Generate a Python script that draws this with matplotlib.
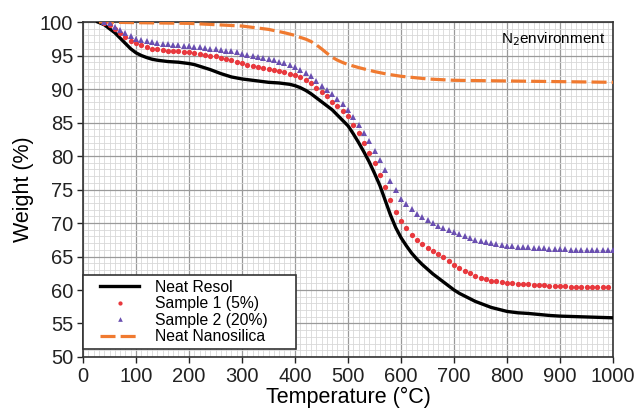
import matplotlib.pyplot as plt
import numpy as np
from matplotlib.ticker import MultipleLocator
from matplotlib.lines import Line2D
from matplotlib.legend_handler import HandlerLine2D

plt.rcParams['font.family'] = ['Liberation Sans', 'DejaVu Sans']

# Neat Resol (solid black)
resol_t = [28] + list(range(40, 800, 10)) + [800, 820, 840, 860, 880, 900, 920, 940, 960, 980, 1000]
resol_w = [100, 99.6, 99.0, 98.4, 97.6, 96.8, 96.0, 95.4, 95.0, 94.7, 94.45, 94.3, 94.2, 94.1,
           94.05, 94.0, 93.9, 93.8, 93.65, 93.4, 93.15, 92.9, 92.6, 92.3, 92.05, 91.8, 91.65,
           91.5, 91.4, 91.3, 91.2, 91.1, 91.0, 90.95, 90.9, 90.8, 90.7, 90.5, 90.2, 89.8, 89.3,
           88.7, 88.1, 87.5, 86.9, 86.1, 85.3, 84.5, 83.3, 82.0, 80.6, 79.1, 77.4, 75.6, 73.4,
           71.2, 69.3, 67.8, 66.6, 65.5, 64.6, 63.8, 63.1, 62.4, 61.8, 61.2, 60.6, 60.0, 59.5,
           59.1, 58.7, 58.3, 58.0, 57.7, 57.4, 57.2, 57.0,
           56.8, 56.6, 56.5, 56.35, 56.2, 56.1, 56.05, 56.0, 55.95, 55.9, 55.85]

# Sample 1 (5%), red dots every 10 C from 40 to 990
s1_t = list(range(40, 1000, 10))
s1_w = [99.9, 99.5, 98.9, 98.3, 97.7, 97.2, 96.8, 96.5, 96.2, 96.0, 95.9, 95.8, 95.7, 95.65,
        95.6, 95.55, 95.5, 95.4, 95.3, 95.15, 95.0, 94.9, 94.7, 94.5, 94.3, 94.1, 93.9, 93.6,
        93.4, 93.25, 93.1, 92.95, 92.8, 92.65, 92.5, 92.3, 92.1, 91.8, 91.4, 90.9, 90.2, 89.6,
        88.9, 88.1, 87.4, 86.7, 85.9, 84.7, 83.5, 82.0, 80.5, 78.9, 77.1, 75.3, 73.4, 71.7,
        70.3, 69.2, 68.2, 67.5, 66.8, 66.3, 65.8, 65.3, 64.9, 64.3, 63.8, 63.3, 62.9, 62.5,
        62.1, 61.8, 61.6, 61.4, 61.3, 61.2, 61.1, 61.0, 60.95, 60.9, 60.85, 60.8, 60.75, 60.7,
        60.65, 60.6, 60.6, 60.55, 60.5, 60.5, 60.5, 60.45, 60.45, 60.4, 60.4, 60.4]

# Sample 2 (20%), purple triangles every 10 C from 40 to 1000
s2_t = list(range(40, 1010, 10))
s2_w = [100.0, 99.8, 99.3, 98.8, 98.3, 97.9, 97.5, 97.3, 97.1, 96.95, 96.85, 96.75, 96.65,
        96.6, 96.5, 96.45, 96.4, 96.3, 96.2, 96.1, 96.0, 95.9, 95.8, 95.7, 95.6, 95.45, 95.2,
        95.05, 94.9, 94.75, 94.6, 94.45, 94.3, 94.1, 93.9, 93.6, 93.3, 92.9, 92.4, 91.9, 91.2,
        90.5, 89.9, 89.2, 88.5, 87.7, 86.9, 85.8, 84.7, 83.5, 82.2, 80.8, 79.4, 77.9, 76.3,
        74.9, 73.6, 72.8, 72.1, 71.4, 70.9, 70.4, 70.0, 69.6, 69.3, 69.0, 68.7, 68.4, 68.1,
        67.8, 67.5, 67.3, 67.1, 67.0, 66.85, 66.7, 66.6, 66.5, 66.45, 66.4, 66.35, 66.3, 66.25,
        66.2, 66.15, 66.1, 66.1, 66.05, 66.0, 66.0, 66.0, 65.95, 65.95, 65.9, 65.9, 65.9, 65.9]

# Neat Nanosilica (orange dashed)
silica_t = [30, 100, 200, 250, 300, 350, 380, 400, 410, 420, 430, 440, 450, 460, 470, 480, 490,
            500, 520, 550, 575, 600, 650, 700, 800, 900, 1000]
silica_w = [100, 99.9, 99.8, 99.6, 99.4, 98.9, 98.4, 98.0, 97.7, 97.45, 97.1, 96.6, 96.0, 95.35,
            94.75, 94.3, 93.95, 93.65, 93.2, 92.6, 92.2, 91.9, 91.5, 91.3, 91.2, 91.1, 91.0]

fig = plt.figure(figsize=(6.36, 4.13), dpi=100)
ax = fig.add_axes([0.1305, 0.1356, 0.8335, 0.8111])

ax.plot(resol_t, resol_w, color='black', lw=2.4, label='Neat Resol', zorder=3)
ax.plot(s1_t, s1_w, ls='none', marker='o', ms=3.8, color='#e8383d', mew=0,
        label='Sample 1 (5%)', zorder=4)
ax.plot(s2_t, s2_w, ls='none', marker='^', ms=4.2, color='#6a4fb0', mew=0,
        label='Sample 2 (20%)', zorder=4)
ax.plot(silica_t, silica_w, color='#f07a30', lw=2.3, dashes=(4.7, 1.6),
        label='Neat Nanosilica', zorder=3)

ax.set_xlim(0, 1000)
ax.set_ylim(50, 100)
ax.xaxis.set_major_locator(MultipleLocator(100))
ax.xaxis.set_minor_locator(MultipleLocator(10))
ax.yaxis.set_major_locator(MultipleLocator(5))
ax.yaxis.set_minor_locator(MultipleLocator(1))
ax.grid(which='major', color='#9a9a9a', lw=0.9)
ax.grid(which='minor', color='#d8d8d8', lw=0.6)
ax.set_axisbelow(True)
ax.tick_params(which='minor', length=0)
ax.tick_params(which='major', length=4, width=1, labelsize=14.5, colors='#222222', pad=3)
for s in ax.spines.values():
    s.set_color('#333333')
    s.set_linewidth(1.2)

ax.set_xlabel('Temperature (°C)', fontsize=15.5, labelpad=1)
ax.set_ylabel('Weight (%)', fontsize=15.5, labelpad=4)

ax.text(0.985, 0.975, r'N$_2$environment', transform=ax.transAxes, ha='right', va='top',
        fontsize=11)

leg = ax.legend(loc='lower left', bbox_to_anchor=(0.0, 0.024, 0.402, 0.2), mode='expand',
                fontsize=11.3, frameon=True, fancybox=False, edgecolor='#333333',
                framealpha=1, borderpad=0.3, labelspacing=0.1, handlelength=3.3,
                handletextpad=1.0, borderaxespad=0, markerscale=0.8,
                handler_map={Line2D: HandlerLine2D(xpad=0.8)})
leg.get_frame().set_linewidth(1.2)

fig.savefig('out.png', dpi=100)
